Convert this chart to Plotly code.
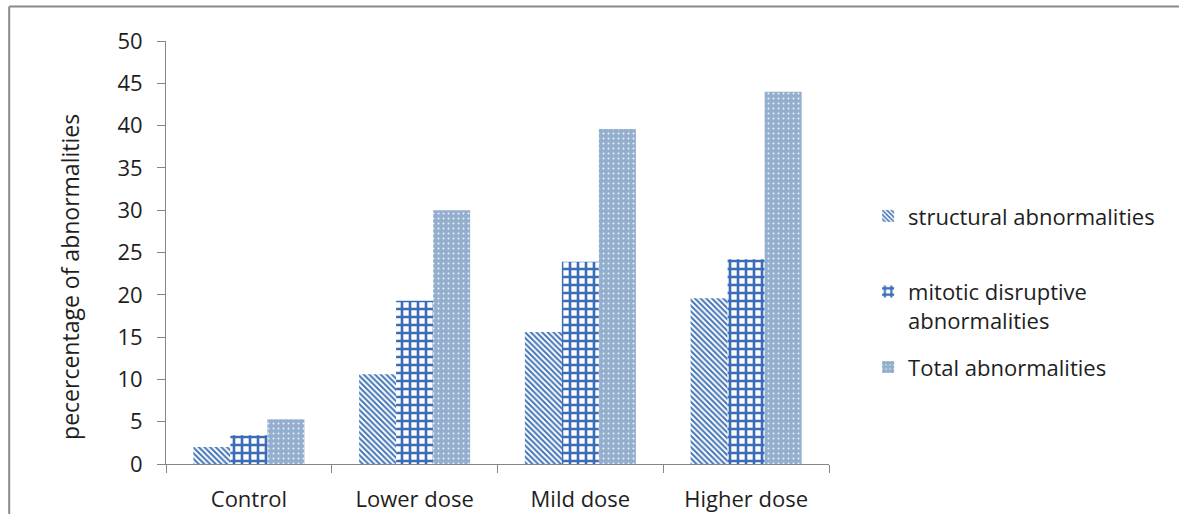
import plotly.graph_objects as go

# Percentage of chromosomal abnormalities per treatment group
categories = ["Control", "Lower dose", "Mild dose", "Higher dose"]
structural = [2.0, 10.6, 15.6, 19.6]
mitotic = [3.4, 19.3, 23.9, 24.2]
total = [5.3, 30.0, 39.6, 44.0]
y_ticks = list(range(0, 51, 5))

FONT = "Open Sans"
TEXT = "#1e1e1e"
AXIS = "#868686"

fig = go.Figure()

fig.add_trace(go.Bar(
    x=categories, y=structural, name="structural abnormalities",
    legend="legend", showlegend=True,
    marker=dict(color="white", line=dict(width=0),
                pattern=dict(shape="\\", fgcolor="#4475b5", bgcolor="white",
                             size=4, solidity=0.5, fillmode="replace")),
))
fig.add_trace(go.Bar(
    x=categories, y=mitotic, name="mitotic disruptive<br>abnormalities",
    legend="legend2", showlegend=True,
    marker=dict(color="white", line=dict(width=0),
                pattern=dict(shape="+", fgcolor="#3a6cb8", bgcolor="white",
                             size=8, solidity=0.55, fillmode="replace")),
))
fig.add_trace(go.Bar(
    x=categories, y=total, name="Total abnormalities",
    legend="legend3", showlegend=True,
    marker=dict(color="#96b1d1", line=dict(width=0),
                pattern=dict(shape=".", fgcolor="#eef3f9", bgcolor="#94aecd",
                             size=5, solidity=0.12, fillmode="replace")),
))

legend_common = dict(
    x=1.059, xanchor="left", bgcolor="rgba(0,0,0,0)", borderwidth=0,
    font=dict(family=FONT, size=22, color=TEXT), itemwidth=30,
    visible=True,
)

fig.update_layout(
    width=1179, height=514,
    margin=dict(l=166, r=350, t=41, b=50),
    paper_bgcolor="white", plot_bgcolor="white",
    barmode="group", bargap=0.33, bargroupgap=0,
    font=dict(family=FONT, size=22, color=TEXT),
    showlegend=True,
    legend=dict(**legend_common, y=0.586, yanchor="middle"),
    legend2=dict(**legend_common, y=0.373, yanchor="middle", valign="top"),
    legend3=dict(**legend_common, y=0.229, yanchor="middle"),
    xaxis=dict(
        showline=True, linecolor=AXIS, linewidth=1,
        ticks="outside", tickson="boundaries", ticklen=8, tickcolor=AXIS,
        ticklabelstandoff=16, showgrid=False, automargin=False,
        tickfont=dict(family=FONT, size=22, color=TEXT),
    ),
    yaxis=dict(
        range=[0, 50], tickvals=y_ticks, showline=True, linecolor=AXIS,
        linewidth=1, ticks="outside", ticklen=8, tickcolor=AXIS,
        ticklabelstandoff=10, showgrid=False, zeroline=False, automargin=False,
        tickfont=dict(family=FONT, size=22, color=TEXT),
    ),
    annotations=[dict(
        text="pecercentage of abnormalities", textangle=-90,
        xref="paper", yref="paper", x=-0.145, y=0.442,
        xanchor="center", yanchor="middle", showarrow=False,
        font=dict(family=FONT, size=23, color=TEXT),
    )],
    shapes=[
        dict(type="line", xref="paper", yref="paper",
             x0=-0.2365, x1=1.6, y0=1.0816, y1=1.0816,
             line=dict(color="#8a8a8a", width=2)),
        dict(type="line", xref="paper", yref="paper",
             x0=-0.2365, x1=-0.2365, y0=-0.2, y1=1.0816,
             line=dict(color="#8a8a8a", width=2)),
    ],
)

fig.write_html("out.html")
